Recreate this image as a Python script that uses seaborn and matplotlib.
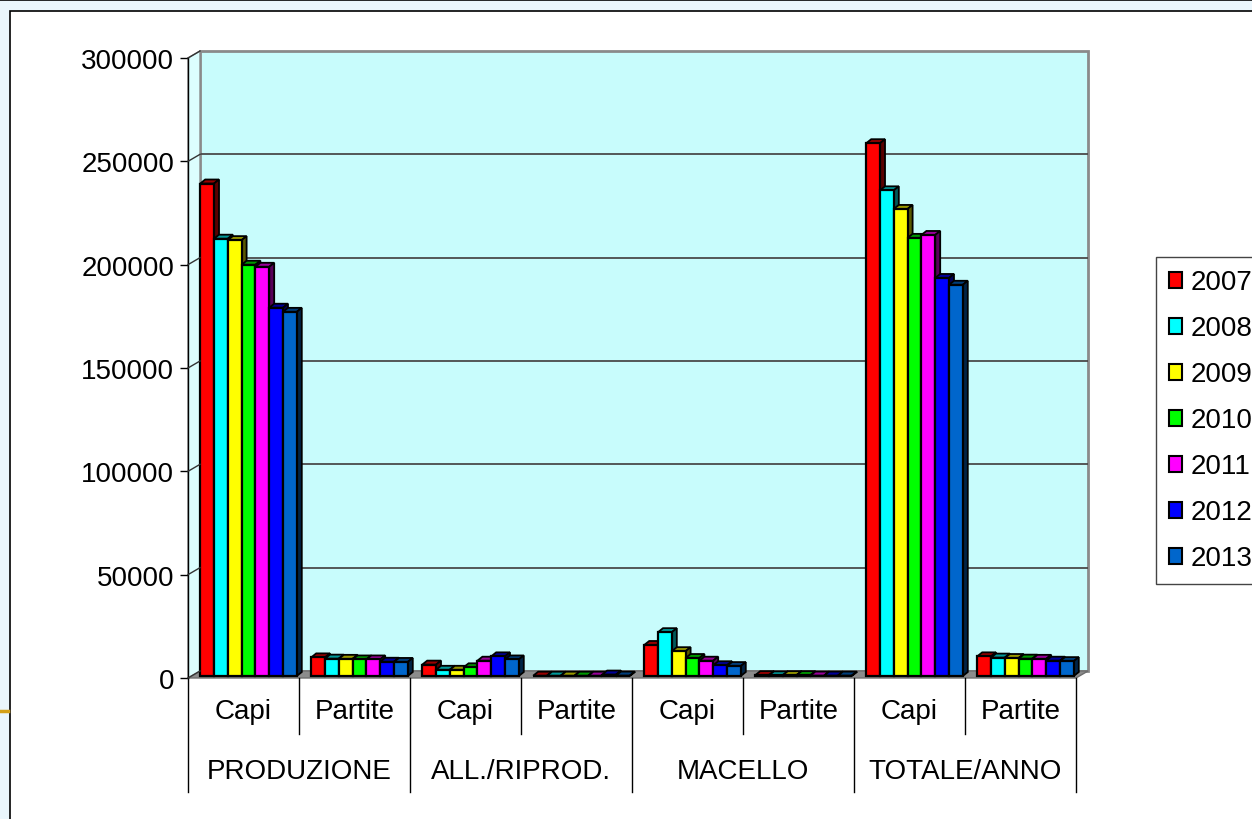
import numpy as np
import pandas as pd
import seaborn as sns
import matplotlib.pyplot as plt
import matplotlib.colors as mcolors
from matplotlib.patches import Rectangle, Polygon, Patch
from matplotlib.lines import Line2D
from matplotlib.transforms import ScaledTranslation, IdentityTransform

# data (2007 .. 2013)
groups = ['PRODUZIONE', 'ALL./RIPROD.', 'MACELLO', 'TOTALE/ANNO']
subs = ['Capi', 'Partite']
years = ['2007', '2008', '2009', '2010', '2011', '2012', '2013']

produzione_capi = [238300, 211600, 210900, 199000, 198000, 178200, 176200]
produzione_partite = [9000, 8400, 8300, 8000, 8000, 6900, 6800]
riprod_capi = [5500, 3000, 3000, 4200, 7400, 9500, 8000]
riprod_partite = [150, 150, 150, 150, 150, 700, 200]
macello_capi = [15000, 21200, 12000, 8700, 7400, 5200, 4800]
macello_partite = [400, 300, 400, 400, 200, 200, 200]
totale_capi = [257800, 235000, 226000, 212000, 213400, 192600, 189300]
totale_partite = [9500, 8900, 8700, 8400, 8300, 7400, 7200]

colors = ['#ff0000', '#00ffff', '#ffff00', '#00ff00', '#ff00ff', '#0000ff', '#0066cc']

series = [produzione_capi, produzione_partite, riprod_capi, riprod_partite,
          macello_capi, macello_partite, totale_capi, totale_partite]
cats = [g + '|' + s for g in groups for s in subs]

rows = []
for cat, vals in zip(cats, series):
    for yr, v in zip(years, vals):
        rows.append({'category': cat, 'year': yr, 'value': v})
df = pd.DataFrame(rows)

plt.rcParams['font.family'] = ['Liberation Sans', 'DejaVu Sans']

W, H = 1252, 820
fig = plt.figure(figsize=(W / 100, H / 100), dpi=100)
fig.patch.set_facecolor('#eaf6fc')

# slide decorations: white chart panel, top rule, gold mark
fig.add_artist(Rectangle((10 / W, -0.01), 1.0, 1 - 12 / H + 0.01, transform=fig.transFigure,
                         facecolor='white', edgecolor='black', linewidth=1.2, zorder=-1))
fig.add_artist(Line2D([0, 1], [1 - 1 / H] * 2, transform=fig.transFigure, color='black', lw=1.2))
fig.add_artist(Line2D([0, 8 / W], [1 - 712 / H] * 2, transform=fig.transFigure,
                      color='#d4a017', lw=2.5))

ax = fig.add_axes([188 / W, (H - 679) / H, 888 / W, 620 / H])
ax.set_facecolor('none')

sns.barplot(data=df, x='category', y='value', hue='year', order=cats, hue_order=years,
            palette=colors, saturation=1, width=0.87, edgecolor='black', linewidth=1.6,
            legend=False, ax=ax, zorder=3)
bars = list(ax.patches)

ax.set_xlim(-0.5, 7.5)
ax.set_ylim(0, 300000)
ticks = list(range(0, 300001, 50000))
ax.set_yticks(ticks)
ax.set_yticklabels([str(t) for t in ticks])
ax.set_xticks([])
ax.set_xlabel('')
ax.set_ylabel('')
ax.tick_params(axis='y', length=6, width=1, pad=4, labelsize=20, direction='out')
for side in ['top', 'right', 'bottom']:
    ax.spines[side].set_visible(False)
ax.spines['left'].set_linewidth(1)
ax.spines['left'].set_zorder(5)

# pseudo 3D: back wall, floor, side wall
off = ScaledTranslation(0.12, 0.07, fig.dpi_scale_trans)
ax.add_patch(Rectangle((0, 0), 1, 1, transform=ax.transAxes + off, facecolor='#c8fcfc',
                       edgecolor='#8a8a8a', linewidth=2, zorder=0, clip_on=False))
ax.hlines(ticks[1:-1], 0, 1, transform=ax.get_yaxis_transform() + off,
          color='#4a4a4a', linewidth=1.3, zorder=1, clip_on=False)

p00 = ax.transAxes.transform((0, 0))
p10 = ax.transAxes.transform((1, 0))
p01 = ax.transAxes.transform((0, 1))
d = np.array([12, 7])
ax.add_patch(Polygon([p00, p10, p10 + d, p00 + d], closed=True, transform=IdentityTransform(),
                     facecolor='#8c8c8c', edgecolor='#6e6e6e', linewidth=1, zorder=1, clip_on=False))
ax.add_patch(Polygon([p00, p01, p01 + d, p00 + d], closed=True, transform=IdentityTransform(),
                     facecolor='#dcfefe', edgecolor='#8a8a8a', linewidth=1, zorder=1, clip_on=False))
for t in ticks:
    p = ax.transData.transform((-0.5, t))
    fig.add_artist(Line2D([p[0], p[0] + 12], [p[1], p[1] + 7], transform=IdentityTransform(),
                          color='#333333', lw=1, zorder=2))

# bars: shift front faces into depth and add top and side faces
front = ScaledTranslation(0.05, 0.02, fig.dpi_scale_trans)
dx, dy = 5, 4
for b in bars:
    fc = np.array(mcolors.to_rgb(b.get_facecolor()))
    b.set_transform(ax.transData + front)
    b.set_clip_on(False)
    (xl, yb), (xr, yt) = (ax.transData + front).transform(
        [(b.get_x(), b.get_y()), (b.get_x() + b.get_width(), b.get_y() + b.get_height())])
    top = [(xl, yt), (xr, yt), (xr + dx, yt + dy), (xl + dx, yt + dy)]
    side = [(xr, yb), (xr, yt), (xr + dx, yt + dy), (xr + dx, yb + dy)]
    ax.add_patch(Polygon(top, closed=True, transform=IdentityTransform(), facecolor=fc * 0.6,
                         edgecolor='black', linewidth=1.3, zorder=2, clip_on=False))
    ax.add_patch(Polygon(side, closed=True, transform=IdentityTransform(), facecolor=fc * 0.35,
                         edgecolor='black', linewidth=1.3, zorder=2, clip_on=False))

# two-level category labels
xt = ax.get_xaxis_transform()
for i, cat in enumerate(cats):
    ax.text(i, -0.053, cat.split('|')[1], transform=xt, ha='center', va='center', fontsize=20)
for gi, g in enumerate(groups):
    ax.text(gi * 2 + 0.5, -0.15, g, transform=xt, ha='center', va='center', fontsize=20)
for k in range(9):
    xb = k - 0.5
    low = -0.184 if k % 2 == 0 else -0.09
    ax.plot([xb, xb], [0, low], transform=xt, color='black', lw=1, clip_on=False, zorder=5)

# legend sits partly outside the right edge, as in the source slide
handles = [Patch(facecolor=c, edgecolor='black', linewidth=1.5, label=y) for c, y in zip(colors, years)]
leg = fig.legend(handles=handles, loc='upper left', bbox_to_anchor=(1156 / W, 1 - 258 / H),
                 fontsize=20, frameon=True, fancybox=False, framealpha=1, edgecolor='#444444',
                 handlelength=0.5, handleheight=0.5, handletextpad=0.3, labelspacing=0.72,
                 borderpad=0.45, borderaxespad=0)
leg.get_frame().set_linewidth(1)

fig.savefig('out.png', dpi=100, facecolor=fig.get_facecolor())
